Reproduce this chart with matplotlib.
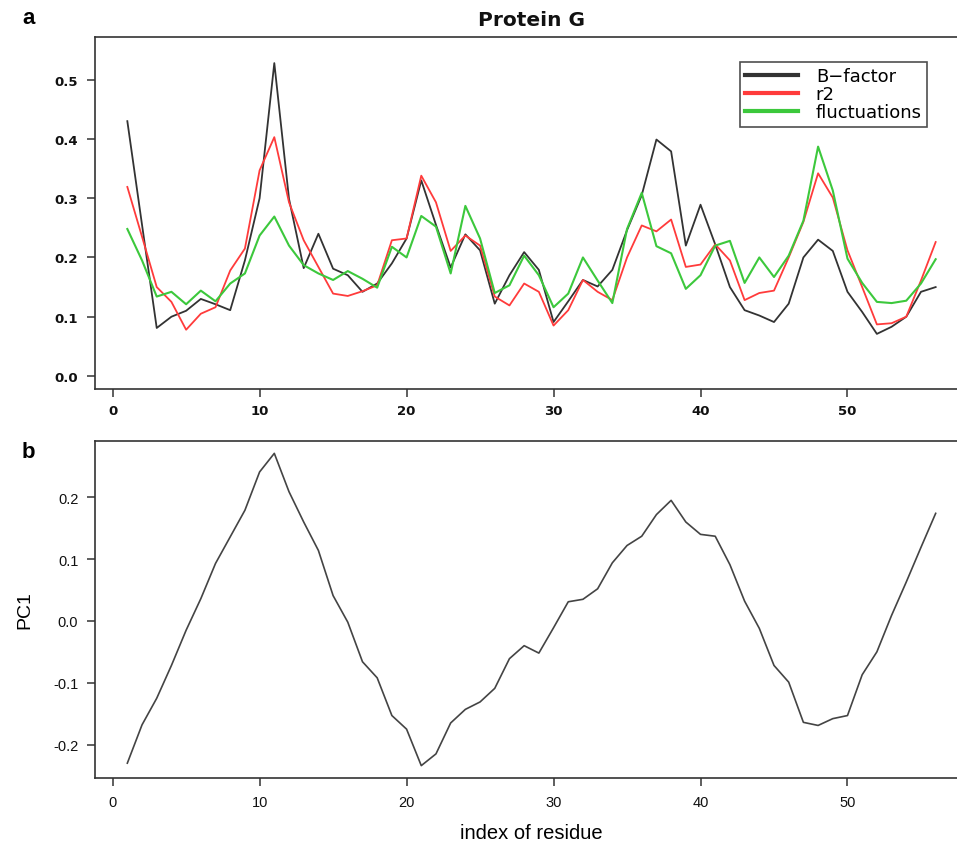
import matplotlib
matplotlib.use("Agg")
import matplotlib.pyplot as plt
from matplotlib.lines import Line2D

residues = list(range(1, 57))

bfactor = [0.430, 0.255, 0.081, 0.100, 0.110, 0.130, 0.121, 0.111, 0.195, 0.300,
           0.528, 0.299, 0.182, 0.240, 0.181, 0.170, 0.142, 0.156, 0.190, 0.232,
           0.330, 0.255, 0.183, 0.239, 0.212, 0.122, 0.170, 0.209, 0.179, 0.091,
           0.126, 0.162, 0.151, 0.179, 0.246, 0.305, 0.399, 0.379, 0.220, 0.289,
           0.222, 0.150, 0.111, 0.102, 0.091, 0.122, 0.200, 0.230, 0.211, 0.142,
           0.108, 0.071, 0.083, 0.100, 0.142, 0.150]

r2 = [0.319, 0.235, 0.150, 0.125, 0.078, 0.105, 0.116, 0.178, 0.215, 0.347,
      0.403, 0.293, 0.229, 0.184, 0.139, 0.135, 0.143, 0.153, 0.229, 0.232,
      0.338, 0.293, 0.211, 0.237, 0.220, 0.134, 0.119, 0.156, 0.142, 0.085,
      0.111, 0.162, 0.142, 0.128, 0.200, 0.254, 0.244, 0.264, 0.184, 0.188,
      0.222, 0.195, 0.128, 0.140, 0.144, 0.200, 0.260, 0.342, 0.301, 0.212,
      0.150, 0.087, 0.089, 0.100, 0.161, 0.226]

fluct = [0.248, 0.195, 0.134, 0.142, 0.121, 0.144, 0.126, 0.156, 0.173, 0.237,
         0.269, 0.220, 0.187, 0.173, 0.162, 0.177, 0.164, 0.149, 0.218, 0.200,
         0.270, 0.252, 0.173, 0.287, 0.232, 0.140, 0.153, 0.203, 0.170, 0.116,
         0.139, 0.200, 0.161, 0.123, 0.248, 0.309, 0.219, 0.207, 0.147, 0.170,
         0.220, 0.228, 0.157, 0.200, 0.167, 0.203, 0.262, 0.387, 0.313, 0.198,
         0.157, 0.125, 0.123, 0.127, 0.156, 0.197]

pc1 = [-0.230, -0.168, -0.125, -0.072, -0.015, 0.036, 0.093, 0.136, 0.179, 0.241,
       0.271, 0.209, 0.160, 0.114, 0.041, -0.002, -0.066, -0.092, -0.153, -0.175,
       -0.234, -0.215, -0.165, -0.143, -0.131, -0.109, -0.061, -0.040, -0.052, -0.011,
       0.031, 0.035, 0.052, 0.094, 0.122, 0.137, 0.172, 0.195, 0.160, 0.140,
       0.137, 0.091, 0.032, -0.012, -0.072, -0.099, -0.164, -0.169, -0.158, -0.153,
       -0.087, -0.050, 0.009, 0.063, 0.119, 0.174]

xticks = [0, 10, 20, 30, 40, 50]
top_yticks = [0.0, 0.1, 0.2, 0.3, 0.4, 0.5]
bot_yticks = [-0.2, -0.1, 0.0, 0.1, 0.2]
legend_labels = ["B\u2212factor", "r2", "fluctuations"]

W, H = 957, 845
fig = plt.figure(figsize=(W / 100, H / 100), dpi=100)
plt.rcParams['font.family'] = ['Liberation Sans', 'DejaVu Sans']


def rect(x0, y0, x1, y1):
    return [x0 / W, 1 - y1 / H, (x1 - x0) / W, (y1 - y0) / H]


ax1 = fig.add_axes(rect(95, 38, 968, 390))
ax2 = fig.add_axes(rect(95, 442, 968, 779))

c_black = "#333333"
c_red = "#ff3b3b"
c_green = "#3cc83c"

ax1.plot(residues, bfactor, color=c_black, lw=1.3)
ax1.plot(residues, r2, color=c_red, lw=1.3)
ax1.plot(residues, fluct, color=c_green, lw=1.5)
ax1.set_xlim(-1.2, 58.2)
ax1.set_ylim(-0.022, 0.572)
ax1.set_xticks(xticks)
ax1.set_yticks(top_yticks)
ax1.set_yticklabels(["%.1f" % v for v in top_yticks])
ax1.set_title("Protein G", fontsize=14.5, fontweight="bold", pad=9,
              family=["DejaVu Sans"], color="#111111")

ax2.plot(residues, pc1, color="#444444", lw=1.2)
ax2.set_xlim(-1.2, 58.2)
ax2.set_ylim(-0.254, 0.291)
ax2.set_xticks(xticks)
ax2.set_yticks(bot_yticks)
ax2.set_yticklabels(["%.1f" % v for v in bot_yticks])
ax2.set_ylabel("PC1", fontsize=14, labelpad=14)
ax2.set_xlabel("index of residue", fontsize=14.5, labelpad=10)

for ax in (ax1, ax2):
    for s in ax.spines.values():
        s.set_color("#333333")
        s.set_linewidth(1.2)
    ax.tick_params(direction="out", length=6, width=1.1, colors="#333333",
                   labelcolor="#111111", labelsize=10.5, pad=6)

for lab in ax1.get_xticklabels() + ax1.get_yticklabels():
    lab.set_fontweight("bold")
    lab.set_family(["DejaVu Sans"])
    lab.set_fontsize(9.5)
ax1.tick_params(axis="x", pad=5)

handles = [Line2D([], [], color=c_black, lw=3),
           Line2D([], [], color=c_red, lw=3),
           Line2D([], [], color=c_green, lw=3)]
leg = ax1.legend(handles, legend_labels, loc="upper left",
                 bbox_to_anchor=((740 - 95) / 873, (390 - 63) / 352),
                 frameon=True, fancybox=False, edgecolor="#222222",
                 prop={"family": ["DejaVu Sans"], "size": 13},
                 handlelength=2.9, handletextpad=1.0,
                 labelspacing=0.0, borderpad=0.3, borderaxespad=0)
leg.get_frame().set_linewidth(1.2)

fig.text(22 / W, 1 - 18 / H, "a", fontsize=16, fontweight="bold", ha="left", va="center")
fig.text(22 / W, 1 - 453 / H, "b", fontsize=16, fontweight="bold", ha="left", va="center")

fig.savefig("out.png", dpi=100)
